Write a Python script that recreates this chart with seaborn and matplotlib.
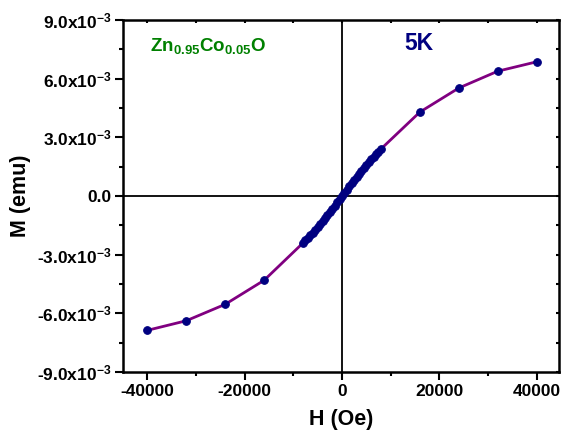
import matplotlib
matplotlib.use("Agg")
import matplotlib.pyplot as plt
import seaborn as sns
import pandas as pd
from matplotlib.ticker import MultipleLocator

sns.set_style("ticks")
plt.rcParams['font.family'] = ['Liberation Sans', 'DejaVu Sans']
plt.rcParams['font.weight'] = 'bold'
plt.rcParams['mathtext.fontset'] = 'custom'
plt.rcParams['mathtext.rm'] = 'Liberation Sans:bold'
plt.rcParams['mathtext.it'] = 'Liberation Sans:bold'
plt.rcParams['mathtext.bf'] = 'Liberation Sans:bold'
for k in ['text.color', 'axes.labelcolor', 'xtick.color', 'ytick.color', 'axes.edgecolor']:
    plt.rcParams[k] = 'black'

# Data (H in Oe, M in emu)
H_outer_neg = [-40000, -32000, -24000, -16000]
M_outer_neg = [-6.87e-3, -6.38e-3, -5.54e-3, -4.31e-3]
H_inner = [-8000, -7500, -7000, -6500, -6000, -5500, -5000, -4500, -4000, -3500, -3000,
           -2500, -2000, -1500, -1000, -500, 0, 500, 1000, 1500, 2000, 2500, 3000, 3500,
           4000, 4500, 5000, 5500, 6000, 6500, 7000, 7500, 8000]
M_inner = [-2.40e-3, -2.27e-3, -2.14e-3, -2.01e-3, -1.87e-3, -1.73e-3, -1.58e-3, -1.43e-3,
           -1.28e-3, -1.13e-3, -0.97e-3, -0.81e-3, -0.65e-3, -0.49e-3, -0.33e-3, -0.165e-3,
           0.0, 0.165e-3, 0.33e-3, 0.49e-3, 0.65e-3, 0.81e-3, 0.97e-3, 1.13e-3, 1.28e-3,
           1.43e-3, 1.58e-3, 1.73e-3, 1.87e-3, 2.01e-3, 2.14e-3, 2.27e-3, 2.40e-3]
H_outer_pos = [16000, 24000, 32000, 40000]
M_outer_pos = [4.29e-3, 5.52e-3, 6.38e-3, 6.86e-3]

xticks = [-40000, -20000, 0, 20000, 40000]
xticklabels = ['-40000', '-20000', '0', '20000', '40000']
yticks = [-9e-3, -6e-3, -3e-3, 0.0, 3e-3, 6e-3, 9e-3]
yticklabels = [r'-9.0x10$^{-3}$', r'-6.0x10$^{-3}$', r'-3.0x10$^{-3}$', '0.0',
               r'3.0x10$^{-3}$', r'6.0x10$^{-3}$', r'9.0x10$^{-3}$']

df = pd.DataFrame({'H': H_outer_neg + H_inner + H_outer_pos,
                   'M': M_outer_neg + M_inner + M_outer_pos})

fig = plt.figure(figsize=(5.62, 4.34), dpi=100)
ax = fig.add_axes([0.2189, 0.1429, 0.7758, 0.8111])

ax.axhline(0, color='black', lw=1.3, zorder=1)
ax.axvline(0, color='black', lw=1.3, zorder=1)

sns.lineplot(data=df, x='H', y='M', ax=ax, color='#800080', lw=2.0, sort=False,
             marker='o', markersize=5.5, markerfacecolor='#000080', markeredgecolor='#000080',
             zorder=3)

ax.set_xlim(-45000, 44600)
ax.set_ylim(-9e-3, 9e-3)
ax.set_xticks(xticks)
ax.set_xticklabels(xticklabels, fontsize=12.5, fontweight='bold')
ax.set_yticks(yticks)
ax.set_yticklabels(yticklabels, fontsize=12.5, fontweight='bold')
ax.xaxis.set_minor_locator(MultipleLocator(10000))
ax.yaxis.set_minor_locator(MultipleLocator(1.5e-3))

ax.tick_params(which='major', direction='out', length=5.5, width=1.5, pad=3,
               top=True, right=True)
ax.tick_params(which='minor', direction='out', length=2.8, width=1.5, top=True, right=True)
for t in ax.xaxis.get_ticklines(minor=False)[1::2] + ax.xaxis.get_ticklines(minor=True)[1::2]:
    t.set_marker(3)
    t.set_markersize(2)
for t in ax.yaxis.get_ticklines(minor=False)[1::2] + ax.yaxis.get_ticklines(minor=True)[1::2]:
    t.set_marker(0)
    t.set_markersize(2)

for s in ax.spines.values():
    s.set_linewidth(1.8)
    s.set_color('black')

ax.set_xlabel('H (Oe)', fontsize=15.5, fontweight='bold', labelpad=7)
ax.set_ylabel('M (emu)', fontsize=15.5, fontweight='bold', labelpad=4)

ax.text(-39400, 7.65e-3, r'Zn$_{0.95}$Co$_{0.05}$O', color='#008000', fontsize=13.5,
        fontweight='bold', va='center', ha='left')
ax.text(12900, 7.78e-3, '5K', color='#000080', fontsize=16.5, fontweight='bold',
        va='center', ha='left')

fig.savefig('out.png', dpi=100)
